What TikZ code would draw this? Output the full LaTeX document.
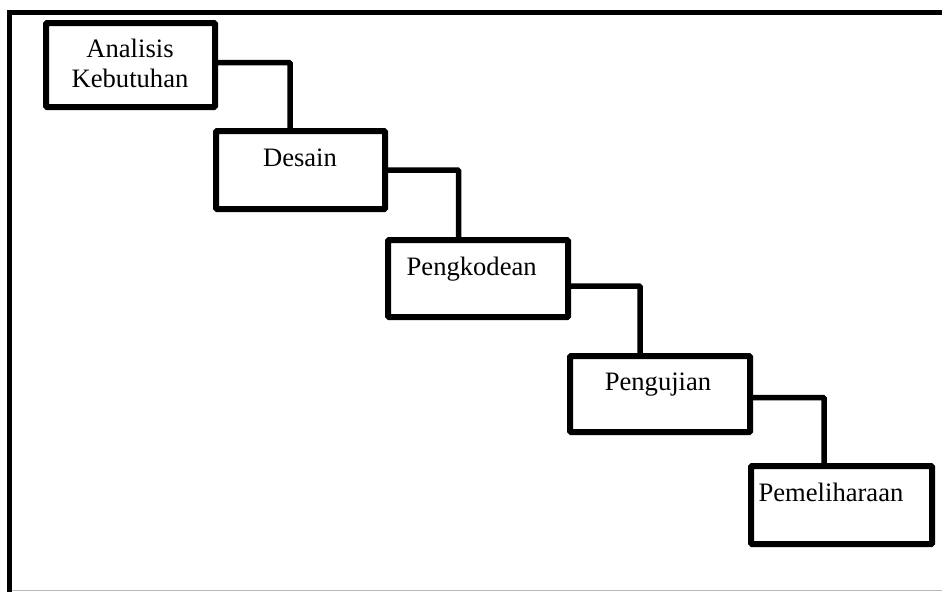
\documentclass[tikz,border=0pt]{standalone}
\usepackage{fontspec}
\setmainfont{Liberation Serif}
\begin{document}
\begin{tikzpicture}[x=1pt,y=-1pt,
  stagebox/.style={draw=black, line width=6pt, rounded corners=1pt, fill=white, inner sep=0pt, outer sep=0pt},
  stagetext/.style={anchor=base, inner sep=0pt, font=\fontsize{26.6}{32}\selectfont},
  link/.style={draw=black, line width=5.5pt, rounded corners=1pt}]
\useasboundingbox (0,0) rectangle (942,592);
\fill[white] (0,0) rectangle (942,592);
% outer frame
\draw[line width=5pt] (9.5,592) -- (9.5,12.5) -- (942,12.5);
\draw[black!28, line width=1pt] (12,590.5) -- (942,590.5);
% boxes
\node[stagebox, minimum width=169pt, minimum height=84pt] (b1) at (130.5,65) {};
\node[stagebox, minimum width=169pt, minimum height=78pt] (b2) at (300.5,170) {};
\node[stagebox, minimum width=180pt, minimum height=77pt] (b3) at (478,278.5) {};
\node[stagebox, minimum width=180pt, minimum height=76pt] (b4) at (660,394) {};
\node[stagebox, minimum width=181pt, minimum height=78pt] (b5) at (841.5,505) {};
% texts
\node[stagetext] (t1a) at (130,57) {Analisis};
\node[stagetext] (t1b) at (130,87.3) {Kebutuhan};
\node[stagetext] (t2) at (300,166.7) {Desain};
\node[stagetext] (t3) at (471.7,275) {Pengkodean};
\node[stagetext] (t4) at (658,390.7) {Pengujian};
\node[stagetext] (t5) at (831,501.7) {Pemeliharaan};
% connectors
\draw[link] ([yshift=2.5pt]b1.east) -| ([xshift=-10.5pt]b2.north);
\draw[link] (b2.east) -| ([xshift=-19.5pt]b3.north);
\draw[link] ([yshift=-7.5pt]b3.east) -| ([xshift=-20pt]b4.north);
\draw[link] ([yshift=-3.5pt]b4.east) -| ([xshift=-17.5pt]b5.north);
\end{tikzpicture}
\end{document}
